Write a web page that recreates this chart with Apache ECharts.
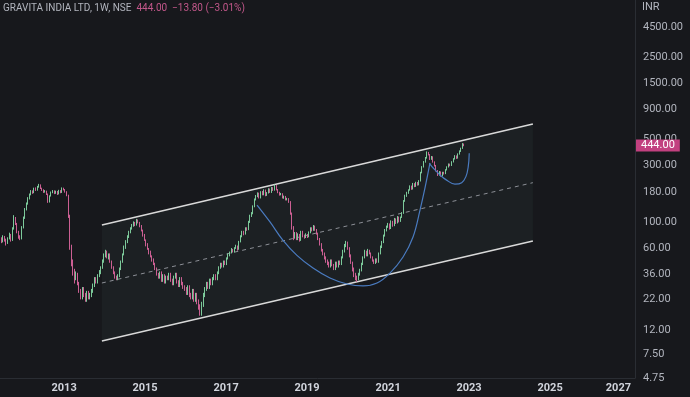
<!DOCTYPE html>
<html><head><meta charset="utf-8">
<script src="https://cdn.jsdelivr.net/npm/echarts@6/dist/echarts.min.js"></script>
<style>html,body{margin:0;padding:0;background:#17181c;}#c{width:690px;height:397px;}</style>
</head><body><div id="c"></div>
<script>
// ---- data ----
const titleText = 'GRAVITA INDIA LTD, 1W, NSE';
const priceChange = '−13.80 (−3.01%)';
const candleStart = '2011-06-03';
const candleStepDays = 14;
// [open, close, low, high]
const candles = [
[74,72,70,77],[72,68,66,74],[68,75,67,77],[75,70,68,76],[70,66,63,72],[66,72,65,74],[72,78,71,81],[78,70,68,79],
[70,88,69,90],[88,108,86,114],[108,96,94,110],[96,82,80,98],[82,74,72,84],[74,72,70,77],
[72,90,71,92],[90,108,88,111],[108,128,106,131],[128,142,125,146],[142,158,140,162],[158,170,155,174],
[170,182,168,186],[182,176,173,185],[176,192,175,195],[192,186,183,196],[186,198,184,202],[198,206,195,210],[206,192,190,208],[192,186,183,195],[186,180,176,189],
[180,182,177,186],[182,172,169,184],[172,148,145,174],[148,166,146,168],[166,178,164,181],[178,183,175,186],[183,175,172,185],[175,181,173,184],[181,172,169,183],[172,184,171,187],[184,178,175,186],[178,192,176,196],
[192,188,185,195],[188,180,177,190],[180,168,165,182],
[168,112,108,170],[112,62,58,115],[62,46,42,64],
[46,38,35,48],[38,33,30,40],[33,36,32,38],
[36,30,29,37],[30,26,25,31],[26,23,22,27],[23,27,22,28],[27,24,23,28],[24,22,21,25],[22,25,21,26],[25,23,22,26],[23,24,22,25],
[24,26,23,27],[26,29,25,30],[29,33,28,34],[33,31,30,34],[31,35,30,36],[35,37,34,39],[37,41,36,42],[41,46,40,48],[46,52,45,54],
[52,56,50,58],[56,50,49,57],[50,53,48,54],
[53,46,45,54],[46,41,40,47],[41,37,36,42],[37,34,33,38],[34,33,32,35],[33,35,32,36],
[35,40,34,41],[40,46,39,47],[46,53,45,54],[53,61,52,63],[61,68,59,70],[68,75,66,77],[75,82,73,84],[82,88,80,90],[88,94,86,96],[94,98,91,101],
[98,94,92,100],[94,103,93,106],[103,99,97,105],
[99,92,90,100],[92,84,83,94],[84,77,75,86],[77,70,69,79],[70,64,62,71],[64,59,58,66],[59,55,53,60],[55,51,50,57],[51,48,46,52],[48,44,43,49],
[44,40,39,45],[40,36,35,41],[36,34,33,37],[34,37,33,38],[37,32,31,38],[32,35,31,36],[35,31,30,36],[31,34,30,35],[34,33,32,35],
[33,36,32,37],[36,32,31,37],[32,30,29,33],[30,34,29,35],[34,36,33,37],[36,31,30,37],[31,29,28,32],[29,33,28,34],[33,30,29,34],[30,28,27,31],
[28,27,26,29],[27,25,24,28],[25,28,24,29],[28,24,23,29],[24,23,22,25],[23,26,22,27],[26,22,21,27],[22,24,21,25],[24,21,20,25],[21,19,18,22],
[19,17,16,20],[17,20,16,21],[20,24,19,25],
[24,27,23,28],[27,30,26,31],[30,28,27,31],[28,32,27,33],[32,30,29,33],[30,33,29,34],[33,35,32,36],[35,33,32,36],[33,37,32,38],
[37,41,36,42],[41,44,40,45],[44,42,41,45],[42,46,41,47],[46,44,43,47],[44,49,43,50],[49,52,48,54],
[52,55,51,56],[55,58,54,60],[58,56,55,59],[56,60,55,61],[60,62,59,64],[62,59,57,63],
[59,68,58,69],[68,75,67,77],[75,82,74,84],[82,79,77,84],[79,88,78,90],[88,86,84,90],
[86,100,85,102],[100,112,98,115],[112,118,110,121],[118,135,116,138],[135,155,133,158],[155,165,152,169],
[165,175,162,178],[175,160,158,177],[160,180,158,182],[180,170,168,183],[170,186,168,189],[186,168,165,188],[168,176,166,179],[176,190,174,193],[190,178,176,192],[178,195,176,198],[195,186,183,197],[186,203,184,207],[203,188,185,205],
[188,178,175,190],[178,170,167,180],[170,173,168,176],[173,160,158,175],[160,165,157,167],[165,155,152,166],[155,158,152,160],[158,148,145,159],
[148,118,115,150],[118,90,86,120],[90,74,70,92],
[74,80,72,82],[80,72,70,82],[72,78,70,80],[78,70,68,79],[70,82,69,84],[82,76,74,84],[76,74,72,78],[74,78,73,80],[78,75,73,79],
[75,81,74,83],[81,88,80,90],[88,85,83,90],[85,92,84,94],[92,86,84,93],[86,80,78,87],
[80,72,70,81],[72,65,63,73],[65,58,56,66],[58,54,52,59],[54,50,48,55],[50,47,45,51],
[47,45,43,48],[45,42,41,46],[42,47,41,48],[47,43,42,48],[43,40,39,44],[40,45,39,46],[45,42,41,46],[42,46,41,47],[46,44,43,47],
[44,50,43,51],[50,56,49,58],[56,63,55,65],[63,67,61,69],[67,60,58,68],[60,52,50,61],
[52,45,44,53],[45,40,38,46],[40,36,34,41],[36,34,32,37],[34,33,31,35],[33,36,32,37],[36,39,35,40],
[39,44,38,45],[44,50,43,51],[50,56,49,58],[56,52,51,57],[52,57,51,59],[57,54,53,58],
[54,50,49,55],[50,47,46,51],[47,45,44,48],[45,48,44,49],[48,46,45,49],
[46,54,45,55],[54,61,53,63],[61,67,60,69],
[67,76,66,78],[76,85,75,87],[85,91,83,93],[91,96,89,98],[96,88,86,97],[88,101,87,103],[101,93,91,102],[93,106,92,108],[106,98,96,107],
[98,110,97,112],[110,101,99,111],[101,109,100,111],[109,118,108,121],
[118,150,117,153],[150,166,148,170],[166,176,163,180],
[176,186,173,189],[186,201,184,204],[201,190,187,203],[190,211,188,214],[211,200,197,213],[200,216,198,219],[216,206,203,218],[206,222,204,226],
[222,262,220,266],[262,292,258,297],[292,322,289,328],[322,348,318,355],[348,388,344,396],[388,372,366,392],
[372,340,335,376],[340,356,336,362],[356,322,318,360],[322,300,295,326],[300,272,268,304],[272,250,245,275],[250,266,247,270],[266,246,242,268],
[246,262,243,266],[262,256,252,266],[256,276,254,280],[276,292,273,296],[292,308,289,313],[308,300,296,312],[300,322,298,327],
[322,342,319,347],[342,362,338,368],[362,346,342,366],[346,376,344,381],[376,398,372,404],[398,420,392,426],[420,458,416,466],[458,444,438,462]
];
const yearLabels = ['2013','2015','2017','2019','2021','2023','2025','2027'];
const priceLabels = [4.75, 7.5, 12, 22, 36, 60, 100, 180, 300, 500, 900, 1500, 2500, 4500];
const channelDates = ['2013-12-08', '2024-07-30'];
const channelUpper = [94.2, 676];
const channelLower = [9.77, 68.9];
const channelMid = [30.3, 215];
const bigCupDates = ['2017-10-07','2018-02-01','2018-05-28','2018-10-02','2019-02-24','2019-07-27','2019-12-28','2020-05-20','2020-09-23','2021-01-18','2021-05-16','2021-08-14','2021-10-16','2021-11-30','2022-01-14'];
const bigCupValues = [139, 100, 70, 52, 40.6, 33.4, 29.7, 28.6, 30.3, 36.8, 50.4, 74.5, 126, 194, 316];
const smallCupDates = ['2022-01-08','2022-02-14','2022-04-14','2022-06-13','2022-08-27','2022-10-27','2022-12-04','2022-12-25','2023-01-03'];
const smallCupValues = [314, 285, 250, 226, 209, 215, 242, 294, 382];
const xMinDate = '2011-06-03', xMaxDate = '2027-02-06';
const yMin = 4.74, yMax = 7620;

// ---- build ----
const T = s => +echarts.time.parse(s);
const t0 = T(candleStart);
const candleDates = candles.map((_, i) => t0 + i * candleStepDays * 86400000);
const lastCandle = candles[candles.length - 1];
const lastClose = lastCandle[1];
const FONT = 'Roboto, "Noto Sans", sans-serif';
const cd = channelDates.map(T);

const chart = echarts.init(document.getElementById('c'), null, {renderer: 'canvas'});
chart.setOption({
  backgroundColor: '#17181c',
  animation: false,
  title: {
    left: 3, top: 3, padding: 0,
    text: '{a|' + titleText + '}  {b|' + lastClose.toFixed(2) + '}  {b|' + priceChange + '}',
    textStyle: {
      fontSize: 10, fontFamily: FONT, fontWeight: 'normal',
      rich: { a: {color: '#b2b5be', fontSize: 10, fontFamily: FONT}, b: {color: '#c2578a', fontSize: 10, fontFamily: FONT} }
    }
  },
  graphic: [{ type: 'text', left: 642, top: 2, style: { text: 'INR', fill: '#b2b5be', fontSize: 11, fontFamily: FONT } }],
  grid: { left: 0, right: 55, top: 0, bottom: 19, containLabel: false },
  xAxis: [
    { type: 'time', min: T(xMinDate), max: T(xMaxDate),
      axisLine: { show: false }, axisTick: { show: false }, splitLine: { show: false }, axisLabel: { show: false } },
    { type: 'value', min: T(xMinDate), max: T(xMaxDate), position: 'bottom',
      axisLine: { show: true, onZero: false, lineStyle: { color: '#2a2d33', width: 1 } },
      axisTick: { show: false }, splitLine: { show: false },
      axisLabel: {
        customValues: yearLabels.map(y => T(y + '-01-01')),
        formatter: v => String(new Date(v).getFullYear()),
        color: '#d1d4dc', fontSize: 11, fontWeight: 'bold', fontFamily: FONT, margin: 5,
        alignMaxLabel: 'right', showMaxLabel: true, hideOverlap: false
      } }
  ],
  yAxis: [
    { type: 'log', logBase: 10, min: yMin, max: yMax, position: 'right',
      axisLine: { show: false }, axisTick: { show: false }, axisLabel: { show: false }, splitLine: { show: false } },
    { type: 'value', min: Math.log10(yMin), max: Math.log10(yMax), position: 'right',
      axisLine: { show: true, onZero: false, lineStyle: { color: '#2a2d33' } }, axisTick: { show: false }, splitLine: { show: false },
      axisLabel: {
        customValues: priceLabels.map(v => Math.log10(v)),
        formatter: v => Math.pow(10, v).toFixed(2),
        color: '#b2b5be', fontSize: 11, fontFamily: FONT, margin: 8, hideOverlap: false,
        showMinLabel: true, showMaxLabel: true
      } }
  ],
  series: [
    { type: 'custom', silent: true, z: 1, clip: false,
      data: [[cd[0], channelUpper[0]]],
      renderItem: (params, api) => ({
        type: 'polygon',
        shape: { points: [ api.coord([cd[0], channelUpper[0]]), api.coord([cd[1], channelUpper[1]]), api.coord([cd[1], channelLower[1]]), api.coord([cd[0], channelLower[0]]) ] },
        style: { fill: '#1c2023' }
      }) },
    { type: 'line', z: 2, silent: true, showSymbol: false, symbol: 'none', data: [[cd[0], channelUpper[0]], [cd[1], channelUpper[1]]], lineStyle: { color: '#d9d9d9', width: 1.5 } },
    { type: 'line', z: 2, silent: true, showSymbol: false, symbol: 'none', data: [[cd[0], channelLower[0]], [cd[1], channelLower[1]]], lineStyle: { color: '#d9d9d9', width: 1.5 } },
    { type: 'line', z: 2, silent: true, showSymbol: false, symbol: 'none', data: [[cd[0], channelMid[0]], [cd[1], channelMid[1]]], lineStyle: { color: '#8c8f96', width: 1, type: [4, 4] } },
    { type: 'candlestick', z: 3, silent: true, barWidth: 1.2, clip: false,
      data: candles.map((c, i) => [candleDates[i], c[0], c[1], c[2], c[3]]),
      encode: { x: 0, y: [1, 2, 3, 4] },
      itemStyle: { color: '#7cc99a', color0: '#cc5f93', borderColor: '#7cc99a', borderColor0: '#cc5f93', borderWidth: 1 },
      markLine: {
        silent: true, symbol: 'none', animation: false,
        lineStyle: { color: 'rgba(0,0,0,0)', width: 1, opacity: 1 },
        data: [{ yAxis: lastClose }],
        label: { show: true, position: 'end', distance: 1, formatter: lastClose.toFixed(2), opacity: 1,
          color: '#ffffff', backgroundColor: '#c2407f', padding: [1, 5, 0, 5], fontSize: 11, fontFamily: FONT }
      } },
    { type: 'line', z: 4, silent: true, showSymbol: false, symbol: 'none', smooth: 0.4,
      data: bigCupDates.map((d, i) => [T(d), bigCupValues[i]]), lineStyle: { color: '#4a7bc0', width: 1.2 } },
    { type: 'line', z: 4, silent: true, showSymbol: false, symbol: 'none', smooth: 0.4,
      data: smallCupDates.map((d, i) => [T(d), smallCupValues[i]]), lineStyle: { color: '#4a7bc0', width: 1.2 } }
  ]
});
</script></body></html>
